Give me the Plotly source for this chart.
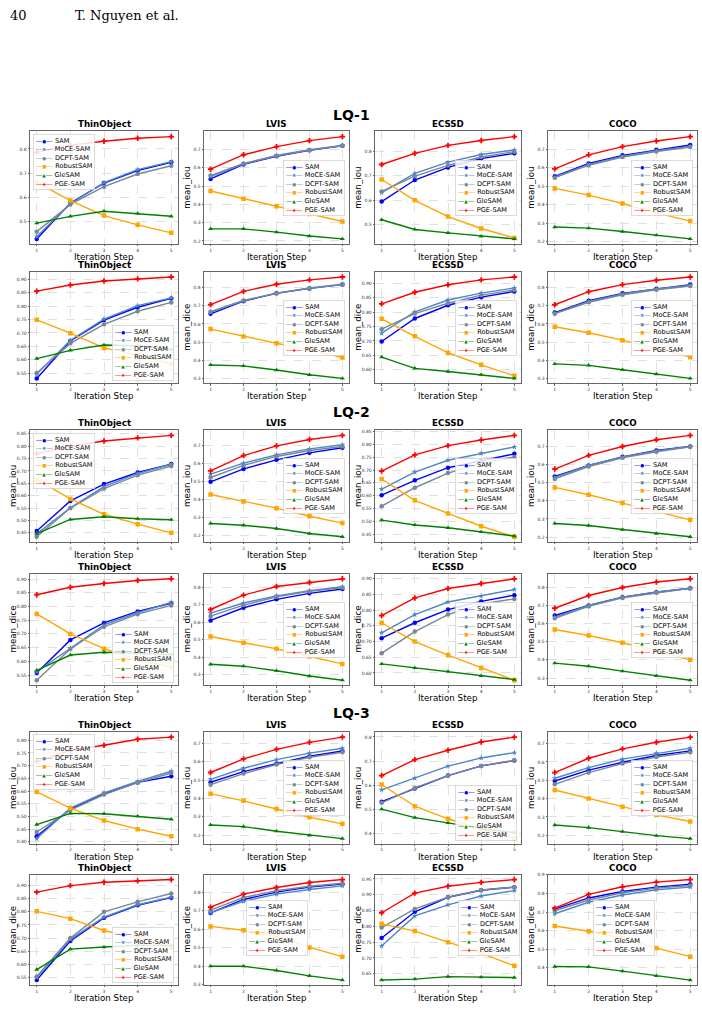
import plotly.graph_objects as go

# ---------------- data ----------------
ITER_STEPS = [1, 2, 3, 4, 5]
METHODS = ["SAM", "MoCE-SAM", "DCPT-SAM", "RobustSAM", "GleSAM", "PGE-SAM"]
DATASETS = ["ThinObject", "LVIS", "ECSSD", "COCO"]
LEVELS = ["LQ-1", "LQ-2", "LQ-3"]
METRICS = ["mean_iou", "mean_dice"]

LQ1_IOU_THINOBJECT = {
    "SAM": [0.430, 0.578, 0.660, 0.711, 0.745],
    "MoCE-SAM": [0.440, 0.575, 0.662, 0.715, 0.748],
    "DCPT-SAM": [0.460, 0.572, 0.645, 0.697, 0.731],
    "RobustSAM": [0.663, 0.588, 0.526, 0.488, 0.455],
    "GleSAM": [0.495, 0.523, 0.544, 0.535, 0.523],
    "PGE-SAM": [0.786, 0.816, 0.832, 0.844, 0.851],
}
LQ1_IOU_LVIS = {
    "SAM": [0.539, 0.618, 0.662, 0.695, 0.720],
    "MoCE-SAM": [0.552, 0.621, 0.667, 0.698, 0.722],
    "DCPT-SAM": [0.557, 0.623, 0.665, 0.696, 0.720],
    "RobustSAM": [0.473, 0.431, 0.389, 0.347, 0.306],
    "GleSAM": [0.266, 0.266, 0.248, 0.227, 0.211],
    "PGE-SAM": [0.592, 0.671, 0.715, 0.748, 0.770],
}
LQ1_IOU_ECSSD = {
    "SAM": [0.594, 0.683, 0.735, 0.771, 0.793],
    "MoCE-SAM": [0.631, 0.710, 0.757, 0.788, 0.807],
    "DCPT-SAM": [0.636, 0.699, 0.743, 0.778, 0.800],
    "RobustSAM": [0.685, 0.599, 0.532, 0.483, 0.444],
    "GleSAM": [0.519, 0.479, 0.465, 0.451, 0.440],
    "PGE-SAM": [0.747, 0.793, 0.826, 0.846, 0.862],
}
LQ1_IOU_COCO = {
    "SAM": [0.553, 0.622, 0.666, 0.696, 0.722],
    "MoCE-SAM": [0.548, 0.617, 0.660, 0.691, 0.714],
    "DCPT-SAM": [0.546, 0.613, 0.657, 0.687, 0.711],
    "RobustSAM": [0.488, 0.452, 0.407, 0.356, 0.312],
    "GleSAM": [0.280, 0.274, 0.256, 0.236, 0.216],
    "PGE-SAM": [0.593, 0.669, 0.713, 0.743, 0.767],
}
LQ1_DICE_THINOBJECT = {
    "SAM": [0.530, 0.670, 0.748, 0.796, 0.829],
    "MoCE-SAM": [0.546, 0.672, 0.752, 0.802, 0.831],
    "DCPT-SAM": [0.550, 0.661, 0.732, 0.781, 0.814],
    "RobustSAM": [0.749, 0.699, 0.644, 0.617, 0.584],
    "GleSAM": [0.604, 0.635, 0.655, 0.652, 0.639],
    "PGE-SAM": [0.856, 0.879, 0.894, 0.902, 0.909],
}
LQ1_DICE_LVIS = {
    "SAM": [0.656, 0.726, 0.769, 0.796, 0.817],
    "MoCE-SAM": [0.665, 0.728, 0.770, 0.798, 0.819],
    "DCPT-SAM": [0.668, 0.730, 0.770, 0.796, 0.817],
    "RobustSAM": [0.572, 0.531, 0.494, 0.457, 0.415],
    "GleSAM": [0.374, 0.369, 0.346, 0.320, 0.300],
    "PGE-SAM": [0.707, 0.780, 0.819, 0.843, 0.859],
}
LQ1_DICE_ECSSD = {
    "SAM": [0.698, 0.778, 0.824, 0.852, 0.872],
    "MoCE-SAM": [0.727, 0.801, 0.842, 0.866, 0.884],
    "DCPT-SAM": [0.741, 0.795, 0.831, 0.859, 0.877],
    "RobustSAM": [0.777, 0.716, 0.659, 0.617, 0.579],
    "GleSAM": [0.644, 0.605, 0.594, 0.583, 0.570],
    "PGE-SAM": [0.829, 0.869, 0.895, 0.912, 0.922],
}
LQ1_DICE_COCO = {
    "SAM": [0.663, 0.728, 0.769, 0.794, 0.817],
    "MoCE-SAM": [0.659, 0.724, 0.765, 0.793, 0.813],
    "DCPT-SAM": [0.657, 0.720, 0.761, 0.789, 0.809],
    "RobustSAM": [0.585, 0.552, 0.511, 0.467, 0.417],
    "GleSAM": [0.380, 0.372, 0.348, 0.324, 0.300],
    "PGE-SAM": [0.706, 0.778, 0.817, 0.841, 0.859],
}
LQ2_IOU_THINOBJECT = {
    "SAM": [0.457, 0.579, 0.647, 0.694, 0.728],
    "MoCE-SAM": [0.446, 0.551, 0.637, 0.690, 0.728],
    "DCPT-SAM": [0.434, 0.550, 0.629, 0.683, 0.720],
    "RobustSAM": [0.665, 0.587, 0.525, 0.485, 0.450],
    "GleSAM": [0.447, 0.504, 0.515, 0.507, 0.503],
    "PGE-SAM": [0.770, 0.800, 0.821, 0.834, 0.844],
}
LQ2_IOU_LVIS = {
    "SAM": [0.498, 0.570, 0.620, 0.659, 0.687],
    "MoCE-SAM": [0.541, 0.602, 0.648, 0.681, 0.704],
    "DCPT-SAM": [0.522, 0.589, 0.639, 0.672, 0.694],
    "RobustSAM": [0.428, 0.389, 0.352, 0.307, 0.269],
    "GleSAM": [0.267, 0.257, 0.239, 0.211, 0.193],
    "PGE-SAM": [0.559, 0.644, 0.698, 0.733, 0.756],
}
LQ2_IOU_ECSSD = {
    "SAM": [0.602, 0.660, 0.709, 0.736, 0.763],
    "MoCE-SAM": [0.626, 0.692, 0.738, 0.765, 0.790],
    "DCPT-SAM": [0.559, 0.631, 0.688, 0.726, 0.751],
    "RobustSAM": [0.665, 0.582, 0.531, 0.481, 0.440],
    "GleSAM": [0.505, 0.486, 0.475, 0.459, 0.443],
    "PGE-SAM": [0.696, 0.759, 0.795, 0.817, 0.835],
}
LQ2_IOU_COCO = {
    "SAM": [0.533, 0.594, 0.641, 0.676, 0.698],
    "MoCE-SAM": [0.528, 0.594, 0.640, 0.674, 0.698],
    "DCPT-SAM": [0.520, 0.588, 0.636, 0.669, 0.696],
    "RobustSAM": [0.473, 0.433, 0.387, 0.341, 0.295],
    "GleSAM": [0.275, 0.264, 0.242, 0.220, 0.202],
    "PGE-SAM": [0.574, 0.649, 0.698, 0.735, 0.759],
}
LQ2_DICE_THINOBJECT = {
    "SAM": [0.557, 0.678, 0.740, 0.782, 0.812],
    "MoCE-SAM": [0.562, 0.649, 0.733, 0.777, 0.815],
    "DCPT-SAM": [0.531, 0.645, 0.726, 0.772, 0.804],
    "RobustSAM": [0.773, 0.700, 0.646, 0.605, 0.579],
    "GleSAM": [0.567, 0.623, 0.633, 0.630, 0.625],
    "PGE-SAM": [0.843, 0.870, 0.884, 0.895, 0.901],
}
LQ2_DICE_LVIS = {
    "SAM": [0.610, 0.682, 0.730, 0.764, 0.789],
    "MoCE-SAM": [0.651, 0.709, 0.750, 0.779, 0.802],
    "DCPT-SAM": [0.634, 0.697, 0.745, 0.775, 0.796],
    "RobustSAM": [0.518, 0.482, 0.448, 0.404, 0.362],
    "GleSAM": [0.360, 0.349, 0.323, 0.293, 0.269],
    "PGE-SAM": [0.672, 0.754, 0.803, 0.826, 0.847],
}
LQ2_DICE_ECSSD = {
    "SAM": [0.711, 0.760, 0.802, 0.828, 0.848],
    "MoCE-SAM": [0.728, 0.786, 0.826, 0.845, 0.866],
    "DCPT-SAM": [0.663, 0.732, 0.786, 0.820, 0.836],
    "RobustSAM": [0.760, 0.700, 0.657, 0.616, 0.577],
    "GleSAM": [0.629, 0.616, 0.605, 0.591, 0.579],
    "PGE-SAM": [0.783, 0.839, 0.869, 0.885, 0.900],
}
LQ2_DICE_COCO = {
    "SAM": [0.644, 0.699, 0.745, 0.772, 0.794],
    "MoCE-SAM": [0.635, 0.699, 0.745, 0.774, 0.794],
    "DCPT-SAM": [0.629, 0.694, 0.741, 0.769, 0.793],
    "RobustSAM": [0.567, 0.534, 0.494, 0.450, 0.400],
    "GleSAM": [0.382, 0.365, 0.338, 0.312, 0.288],
    "PGE-SAM": [0.684, 0.754, 0.798, 0.828, 0.846],
}
LQ3_IOU_THINOBJECT = {
    "SAM": [0.422, 0.529, 0.588, 0.634, 0.658],
    "MoCE-SAM": [0.413, 0.533, 0.593, 0.638, 0.678],
    "DCPT-SAM": [0.439, 0.525, 0.586, 0.633, 0.671],
    "RobustSAM": [0.597, 0.533, 0.484, 0.450, 0.422],
    "GleSAM": [0.468, 0.512, 0.511, 0.501, 0.489],
    "PGE-SAM": [0.717, 0.760, 0.780, 0.804, 0.812],
}
LQ3_IOU_LVIS = {
    "SAM": [0.488, 0.546, 0.589, 0.629, 0.658],
    "MoCE-SAM": [0.504, 0.564, 0.611, 0.646, 0.673],
    "DCPT-SAM": [0.475, 0.535, 0.584, 0.624, 0.651],
    "RobustSAM": [0.426, 0.387, 0.343, 0.298, 0.262],
    "GleSAM": [0.256, 0.247, 0.222, 0.200, 0.182],
    "PGE-SAM": [0.541, 0.615, 0.667, 0.705, 0.733],
}
LQ3_IOU_ECSSD = {
    "SAM": [0.532, 0.586, 0.640, 0.680, 0.702],
    "MoCE-SAM": [0.581, 0.629, 0.679, 0.713, 0.735],
    "DCPT-SAM": [0.527, 0.589, 0.640, 0.680, 0.703],
    "RobustSAM": [0.603, 0.513, 0.461, 0.420, 0.379],
    "GleSAM": [0.501, 0.466, 0.444, 0.420, 0.404],
    "PGE-SAM": [0.640, 0.706, 0.745, 0.779, 0.799],
}
LQ3_IOU_COCO = {
    "SAM": [0.496, 0.555, 0.598, 0.635, 0.660],
    "MoCE-SAM": [0.511, 0.569, 0.615, 0.647, 0.675],
    "DCPT-SAM": [0.478, 0.542, 0.591, 0.627, 0.653],
    "RobustSAM": [0.447, 0.400, 0.356, 0.311, 0.275],
    "GleSAM": [0.256, 0.242, 0.220, 0.198, 0.182],
    "PGE-SAM": [0.542, 0.620, 0.671, 0.707, 0.735],
}
LQ3_DICE_THINOBJECT = {
    "SAM": [0.540, 0.689, 0.777, 0.825, 0.854],
    "MoCE-SAM": [0.550, 0.695, 0.780, 0.827, 0.856],
    "DCPT-SAM": [0.554, 0.700, 0.800, 0.838, 0.870],
    "RobustSAM": [0.802, 0.774, 0.729, 0.700, 0.662],
    "GleSAM": [0.580, 0.658, 0.666, 0.672, 0.672],
    "PGE-SAM": [0.875, 0.900, 0.913, 0.918, 0.923],
}
LQ3_DICE_LVIS = {
    "SAM": [0.689, 0.762, 0.802, 0.829, 0.845],
    "MoCE-SAM": [0.691, 0.752, 0.791, 0.816, 0.836],
    "DCPT-SAM": [0.704, 0.773, 0.809, 0.834, 0.850],
    "RobustSAM": [0.616, 0.595, 0.560, 0.502, 0.452],
    "GleSAM": [0.400, 0.400, 0.377, 0.348, 0.325],
    "PGE-SAM": [0.720, 0.791, 0.827, 0.854, 0.870],
}
LQ3_DICE_ECSSD = {
    "SAM": [0.763, 0.846, 0.892, 0.914, 0.924],
    "MoCE-SAM": [0.738, 0.833, 0.868, 0.896, 0.913],
    "DCPT-SAM": [0.796, 0.855, 0.892, 0.915, 0.924],
    "RobustSAM": [0.808, 0.785, 0.750, 0.715, 0.675],
    "GleSAM": [0.630, 0.633, 0.641, 0.639, 0.638],
    "PGE-SAM": [0.843, 0.905, 0.927, 0.939, 0.948],
}
LQ3_DICE_COCO = {
    "SAM": [0.716, 0.776, 0.811, 0.834, 0.850],
    "MoCE-SAM": [0.691, 0.753, 0.792, 0.820, 0.834],
    "DCPT-SAM": [0.707, 0.765, 0.804, 0.829, 0.843],
    "RobustSAM": [0.625, 0.597, 0.560, 0.506, 0.460],
    "GleSAM": [0.407, 0.405, 0.382, 0.357, 0.334],
    "PGE-SAM": [0.721, 0.795, 0.836, 0.861, 0.875],
}

PANELS = [
    [LQ1_IOU_THINOBJECT, LQ1_IOU_LVIS, LQ1_IOU_ECSSD, LQ1_IOU_COCO],
    [LQ1_DICE_THINOBJECT, LQ1_DICE_LVIS, LQ1_DICE_ECSSD, LQ1_DICE_COCO],
    [LQ2_IOU_THINOBJECT, LQ2_IOU_LVIS, LQ2_IOU_ECSSD, LQ2_IOU_COCO],
    [LQ2_DICE_THINOBJECT, LQ2_DICE_LVIS, LQ2_DICE_ECSSD, LQ2_DICE_COCO],
    [LQ3_IOU_THINOBJECT, LQ3_IOU_LVIS, LQ3_IOU_ECSSD, LQ3_IOU_COCO],
    [LQ3_DICE_THINOBJECT, LQ3_DICE_LVIS, LQ3_DICE_ECSSD, LQ3_DICE_COCO],
]

# ---------------- styles / layout ----------------
W, H = 702, 1011
COLORS = {"SAM": "#0000FF", "MoCE-SAM": "#4F86C6", "DCPT-SAM": "#778899",
          "RobustSAM": "#FFA500", "GleSAM": "#008000", "PGE-SAM": "#FF0000"}
SYMBOLS = {"SAM": "circle", "MoCE-SAM": "star", "DCPT-SAM": "circle",
           "RobustSAM": "square", "GleSAM": "triangle-up", "PGE-SAM": "cross"}
GLYPHS = {"SAM": "●", "MoCE-SAM": "✱", "DCPT-SAM": "●",
          "RobustSAM": "■", "GleSAM": "▲", "PGE-SAM": "✚"}

COL_PX = [(30, 178), (204, 349), (375, 521), (548, 697)]
ROW_PX = [(130, 243), (271, 383), (430, 542), (574, 686), (733, 845), (876, 987)]
DTICK = [[0.1, 0.1, 0.1, 0.1],
         [0.05, 0.1, 0.05, 0.1],
         [0.05, 0.1, 0.05, 0.1],
         [0.05, 0.1, 0.05, 0.1],
         [0.05, 0.1, 0.1, 0.1],
         [0.05, 0.1, 0.05, 0.1]]
UL = (0.02, 0.98, "left", "top")
CR = (0.975, 0.5, "right", "middle")
LR = (0.975, 0.02, "right", "bottom")
LEG_POS = [[UL, CR, CR, CR],
           [LR, CR, CR, CR],
           [UL, CR, CR, CR],
           [LR, CR, CR, CR],
           [UL, CR, LR, CR],
           [LR, (0.72, 0.26, "right", "bottom"), (0.99, 0.26, "right", "bottom"),
            (0.72, 0.26, "right", "bottom")]]
LQ_Y = [113, 412, 714]

FONT = "DejaVu Sans"
fig = go.Figure()
annotations = []
layout_axes = {}

legend_text = "<br>".join(
    f"<span style='color:{COLORS[m]}'>—<span style='font-size:4.5px'>{GLYPHS[m]}</span>—</span> {m}"
    for m in METHODS)

for r in range(6):
    metric = METRICS[r % 2]
    for c in range(4):
        idx = r * 4 + c + 1
        xa = "x" if idx == 1 else f"x{idx}"
        ya = "y" if idx == 1 else f"y{idx}"
        data = PANELS[r][c]
        for m in METHODS:
            fig.add_trace(go.Scatter(
                x=ITER_STEPS, y=data[m], mode="lines+markers", name=m,
                line=dict(color=COLORS[m], width=1.4),
                marker=dict(symbol=SYMBOLS[m], size=4.5, color=COLORS[m]),
                xaxis=xa, yaxis=ya, showlegend=False))
        allv = [v for m in METHODS for v in data[m]]
        lo, hi = min(allv), max(allv)
        pad = 0.05 * (hi - lo)
        l, rr = COL_PX[c]
        t, b = ROW_PX[r]
        dt = DTICK[r][c]
        axis_common = dict(showline=True, mirror=True, linecolor="#666666", linewidth=0.8,
                           showgrid=True, gridcolor="#e0e0e0", griddash="dash", gridwidth=0.6,
                           zeroline=False, ticks="outside", ticklen=1.5, tickwidth=0.5,
                           tickcolor="#666666",
                           tickfont=dict(family=FONT, size=4.5, color="#333333"))
        layout_axes["xaxis" if idx == 1 else f"xaxis{idx}"] = dict(
            domain=[l / W, rr / W], range=[0.8, 5.2], tickvals=ITER_STEPS,
            anchor=ya, **axis_common)
        layout_axes["yaxis" if idx == 1 else f"yaxis{idx}"] = dict(
            domain=[1 - b / H, 1 - t / H], range=[lo - pad, hi + pad],
            tick0=0, dtick=dt, tickformat=".2f" if dt < 0.1 else ".1f",
            anchor=xa, **axis_common)
        xd, yd = f"{xa} domain", f"{ya} domain"
        annotations.append(dict(text=f"<b>{DATASETS[c]}</b>", xref=xd, yref=yd, x=0.5, y=1,
                                xanchor="center", yanchor="bottom", yshift=0, showarrow=False,
                                font=dict(family=FONT, size=8.7, color="black")))
        annotations.append(dict(text="Iteration Step", xref=xd, yref=yd, x=0.5, y=0,
                                xanchor="center", yanchor="top", yshift=-6, showarrow=False,
                                font=dict(family=FONT, size=8.7, color="black")))
        if not (c == 0 and r < 2):
            annotations.append(dict(text=metric, xref=xd, yref=yd, x=0, y=0.5,
                                    xanchor="center", yanchor="middle", xshift=-17,
                                    textangle=-90, showarrow=False,
                                    font=dict(family=FONT, size=8.7, color="black")))
        lx, ly, lxa, lya = LEG_POS[r][c]
        annotations.append(dict(text=legend_text, xref=xd, yref=yd, x=lx, y=ly,
                                xanchor=lxa, yanchor=lya, align="left", showarrow=False,
                                bgcolor="rgba(255,255,255,0.85)", bordercolor="#cccccc",
                                borderwidth=0.7, borderpad=2,
                                font=dict(family=FONT, size=6.6, color="black")))

for lvl, yy in zip(LEVELS, LQ_Y):
    annotations.append(dict(text=f"<b>{lvl}</b>", xref="paper", yref="paper", x=0.5,
                            y=1 - yy / H, xanchor="center", yanchor="middle", showarrow=False,
                            font=dict(family=FONT, size=14, color="black")))

annotations.append(dict(text="40", xref="paper", yref="paper", x=8 / W, y=1 - 14 / H,
                        xanchor="left", yanchor="middle", showarrow=False,
                        font=dict(family="DejaVu Serif", size=13, color="black")))
annotations.append(dict(text="T. Nguyen et al.", xref="paper", yref="paper", x=73 / W,
                        y=1 - 14 / H, xanchor="left", yanchor="middle", showarrow=False,
                        font=dict(family="DejaVu Serif", size=13, color="black")))

fig.update_layout(width=W, height=H, margin=dict(l=0, r=0, t=0, b=0),
                  paper_bgcolor="white", plot_bgcolor="white",
                  annotations=annotations, showlegend=False, **layout_axes)

fig.write_html("out.html")
